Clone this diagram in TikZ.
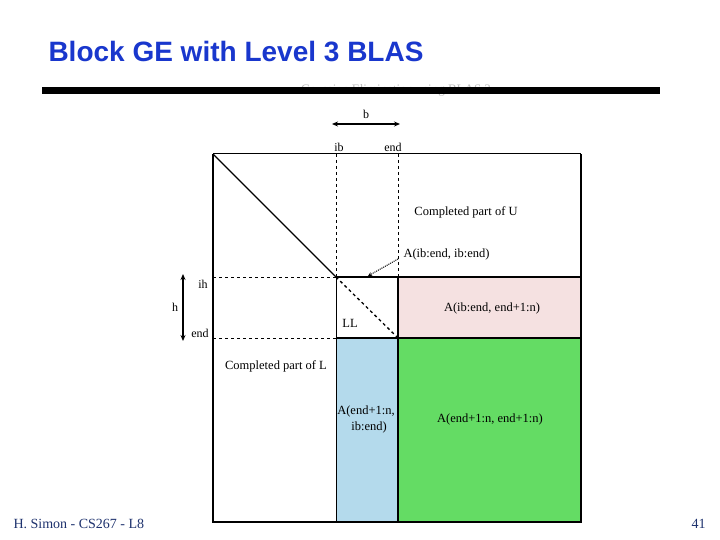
\documentclass[tikz,border=0pt]{standalone}
\usepackage{fontspec}
\setmainfont{Liberation Serif}
\setsansfont{Liberation Sans}
\usetikzlibrary{arrows.meta}
\definecolor{titleblue}{RGB}{25,55,205}
\definecolor{footblue}{RGB}{30,50,110}
\definecolor{lgreen}{RGB}{100,220,100}
\definecolor{lblue}{RGB}{180,218,236}
\definecolor{lpink}{RGB}{245,225,225}
\begin{document}
\begin{tikzpicture}
           [x=1pt,y=-1pt,line width=1pt,
            lbl/.style={anchor=base,inner sep=0pt,font=\fontsize{12.5}{14}\selectfont},
            idx/.style={anchor=base,inner sep=0pt,font=\fontsize{12}{14}\selectfont},
            thickedge/.style={line width=2.5pt},
            blockedge/.style={line width=1.8pt}]
           \useasboundingbox (0,0) rectangle (720,540);
           \fill[white] (0,0) rectangle (720,540);

           \node[anchor=base west,inner sep=0pt,text=titleblue,
                 font=\sffamily\bfseries\fontsize{28}{32}\selectfont] (title) at (48,62) {Block GE with Level 3 BLAS};
           \node[lbl,text=black!25,font=\fontsize{13}{15}\selectfont] (subtitle) at (396,94) {Gaussian Elimination using BLAS 3};
           \fill (42,87) rectangle (660,94);

           \fill[lpink] (398,277) rectangle (581,338);
           \fill[lblue] (336,338) rectangle (398,522);
           \fill[lgreen] (398,338) rectangle (581,522);

           \coordinate (TL) at (213,154);
           \coordinate (TR) at (581,154);
           \coordinate (BL) at (213,522);
           \coordinate (BR) at (581,522);
           \coordinate (ibtop) at (336,154);
           \coordinate (endtop) at (398,154);
           \coordinate (ibib) at (336,277);
           \coordinate (ibend) at (398,277);
           \coordinate (endib) at (336,338);
           \coordinate (endend) at (398,338);
           \coordinate (ibright) at (581,277);
           \coordinate (endright) at (581,338);
           \coordinate (ibleft) at (213,277);
           \coordinate (endleft) at (213,338);
           \coordinate (ibbot) at (336,522);
           \coordinate (endbot) at (398,522);

           \draw[dashed] (ibtop) -- (ibib);
           \draw[dashed] (endtop) -- (ibend);
           \draw[dashed] (ibleft) -- (ibib);
           \draw[dashed] (endleft) -- (endib);
           \draw[line width=1.3pt] (TL) -- (ibib);
           \draw[dashed,line width=1.3pt] (ibib) -- (endend);
           \draw[blockedge] (ibib) -- (ibright);
           \draw[blockedge] (endib) -- (endright);
           \draw (ibib) -- (ibbot);
           \draw[line width=1.4pt] (ibend) -- (endbot);
           \draw (TL) -- (TR);
           \draw[thickedge] (TL) -- (BL) -- (BR) -- (TR);

           \node[idx] (blab) at (366,119) {b};
           \coordinate (bl) at (332,124);
           \coordinate (br) at (400,124);
           \draw[{Stealth[length=6pt,width=5pt]}-{Stealth[length=6pt,width=5pt]},line width=1.3pt] (bl) -- (br);
           \node[idx] (ibtoplab) at (339,152) {ib};
           \node[idx] (endtoplab) at (393,152) {end};

           \node[idx] (hlab) at (175,311) {h};
           \coordinate (ht) at (183,274);
           \coordinate (hb) at (183,341);
           \draw[{Stealth[length=6pt,width=5pt]}-{Stealth[length=6pt,width=5pt]},line width=1.3pt] (ht) -- (hb);
           \node[idx] (ibleftlab) at (203,288) {ih};
           \node[idx] (endleftlab) at (200,337) {end};

           \node[lbl] (cu) at (466,215) {Completed part of U};
           \node[lbl,anchor=base west] (aibib) at (403,257) {A(ib:end, ib:end)};
           \coordinate (lltip) at (368,276);
           \draw[densely dotted,-{Stealth[length=4pt,width=4pt]}] (398,259) -- (lltip);
           \node[lbl] (ll) at (350,327) {LL};
           \node[lbl] (cl) at (276,369) {Completed part of L};
           \node[lbl] (a12) at (492,311) {A(ib:end, end+1:n)};
           \node[lbl] (a21) at (366,414) {A(end+1:n,};
           \node[lbl] (a21b) at (369,430) {ib:end)};
           \node[lbl] (a22) at (490,422) {A(end+1:n, end+1:n)};

           \node[anchor=base west,inner sep=0pt,text=footblue,font=\fontsize{14}{16}\selectfont] (foot) at (13,528) {H. Simon - CS267 - L8};
           \node[anchor=base east,inner sep=0pt,text=footblue,font=\fontsize{14}{16}\selectfont] (page) at (706,528) {41};
         \end{tikzpicture}
\end{document}
